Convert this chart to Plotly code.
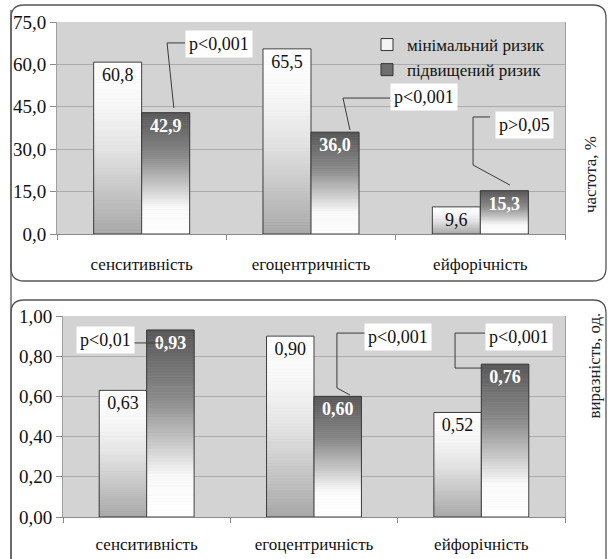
import plotly.graph_objects as go

# ---------------- data ----------------
categories = ["сенситивність", "егоцентричність", "ейфорічність"]
series_names = ["мінімальний ризик", "підвищений ризик"]
freq_min = [60.8, 65.5, 9.6]
freq_high = [42.9, 36.0, 15.3]
expr_min = [0.63, 0.90, 0.52]
expr_high = [0.93, 0.60, 0.76]
freq_p = ["p<0,001", "p<0,001", "p>0,05"]
expr_p = ["p<0,01", "p<0,001", "p<0,001"]
freq_ticks = [0, 15, 30, 45, 60, 75]
expr_ticks = [0, 0.2, 0.4, 0.6, 0.8, 1.0]
freq_title = "частота, %"
expr_title = "виразність, од."

W, H = 611, 559
FONT = "Liberation Serif"

# gradient stops (t = 0 bottom of bar, 1 top of bar)
light_stops = [(0.0, (168, 168, 168)), (0.48, (226, 226, 226)), (0.75, (248, 248, 248)), (1.0, (255, 255, 255))]
dark_stops = [(0.0, (255, 255, 255)), (0.22, (250, 250, 250)), (0.40, (200, 200, 200)),
              (0.64, (138, 138, 138)), (1.0, (88, 88, 88))]


def interp(stops, t):
    for (t0, c0), (t1, c1) in zip(stops[:-1], stops[1:]):
        if t0 <= t <= t1:
            f = (t - t0) / (t1 - t0) if t1 > t0 else 0
            c = [round(a + (b - a) * f) for a, b in zip(c0, c1)]
            return "rgb(%d,%d,%d)" % tuple(c)
    return "rgb(%d,%d,%d)" % stops[-1][1]


def px(x):
    return x / W


def py(y):
    return 1 - y / H


fig = go.Figure()
N = 60


def add_series(values, xa, ya, group, stops, txtcolor, bold, decimals):
    for k in range(N):
        t = (k + 0.5) / N
        col = interp(stops, t)
        fig.add_trace(go.Bar(
            x=categories, y=[v / N for v in values], base=[v * k / N for v in values],
            xaxis=xa, yaxis=ya, offsetgroup=group, showlegend=False, hoverinfo="skip",
            marker=dict(color=col, line=dict(color=col, width=0.6)),
        ))
    labels = []
    for v in values:
        s = f"{v:.{decimals}f}".replace(".", ",")
        labels.append(f"<b>{s}</b>" if bold else s)
    fig.add_trace(go.Bar(
        x=categories, y=values, xaxis=xa, yaxis=ya, offsetgroup=group, showlegend=False,
        marker=dict(color="rgba(0,0,0,0)", line=dict(color="#3c3c3c", width=1)),
        text=labels, textposition="inside", insidetextanchor="end", textangle=0,
        constraintext="none",
        textfont=dict(family=FONT, size=18, color=txtcolor),
    ))


add_series(freq_min, "x", "y", "a", light_stops, "#111111", False, 1)
add_series(freq_high, "x", "y", "b", dark_stops, "#ffffff", True, 1)
add_series(expr_min, "x2", "y2", "a", light_stops, "#111111", False, 2)
add_series(expr_high, "x2", "y2", "b", dark_stops, "#ffffff", True, 2)

# legend entries
fig.add_trace(go.Bar(x=categories, y=[None] * 3, name=series_names[0], xaxis="x", yaxis="y",
                     offsetgroup="a", marker=dict(color="#f4f4f4", line=dict(color="#333", width=1))))
fig.add_trace(go.Bar(x=categories, y=[None] * 3, name=series_names[1], xaxis="x", yaxis="y",
                     offsetgroup="b", marker=dict(color="#6e6e6e", line=dict(color="#333", width=1))))

# ---------------- callouts ----------------
top_callouts = [
    (0.454, 67.2, [(0.19, 44.6), (0.15, 67.6), (0.256, 67.6)]),
    (1.667, 48.5, [(1.23, 36.8), (1.189, 48.1), (1.467, 48.1)]),
    (2.262, 38.6, [(2.175, 17.3), (1.957, 24.4), (1.957, 41.4), (2.057, 41.4)]),
]
bot_callouts = [
    (-0.249, 0.88, [(-0.082, 0.866), (0.092, 0.866)]),
    (1.499, 0.896, [(1.215, 0.607), (1.137, 0.642), (1.137, 0.915), (1.305, 0.915)]),
    (2.225, 0.896, [(2.004, 0.741), (1.843, 0.741), (1.843, 0.915), (2.022, 0.915)]),
]

shapes = []
annotations = []
for (texts, calls, xr, yr) in [(freq_p, top_callouts, "x", "y"), (expr_p, bot_callouts, "x2", "y2")]:
    for txt, (tx, ty, pts) in zip(texts, calls):
        for (x0, y0), (x1, y1) in zip(pts[:-1], pts[1:]):
            shapes.append(dict(type="line", xref=xr, yref=yr, x0=x0, y0=y0, x1=x1, y1=y1,
                               line=dict(color="#3a3a3a", width=1)))
        annotations.append(dict(x=tx, y=ty, xref=xr, yref=yr, text=txt, showarrow=False,
                                bgcolor="white", borderpad=3,
                                font=dict(family=FONT, size=18, color="#111")))


# rounded frames
def rrect(x0, y0, x1, y1, r):
    return (f"M {px(x0 + r)} {py(y0)} L {px(x1 - r)} {py(y0)} Q {px(x1)} {py(y0)} {px(x1)} {py(y0 + r)} "
            f"L {px(x1)} {py(y1 - r)} Q {px(x1)} {py(y1)} {px(x1 - r)} {py(y1)} "
            f"L {px(x0 + r)} {py(y1)} Q {px(x0)} {py(y1)} {px(x0)} {py(y1 - r)} "
            f"L {px(x0)} {py(y0 + r)} Q {px(x0)} {py(y0)} {px(x0 + r)} {py(y0)} Z")


for (a, b) in [(5, 281), (300, 580)]:
    shapes.append(dict(type="path", xref="paper", yref="paper", path=rrect(11, a, 606, b, 13),
                       line=dict(color="#555", width=1.3), layer="below"))
shapes.append(dict(type="line", xref="paper", yref="paper", x0=px(11), x1=px(11), y0=py(10), y1=py(559),
                   line=dict(color="#555", width=1.3), layer="below"))

annotations.append(dict(x=px(602), y=py(134), xref="paper", yref="paper", text=freq_title,
                        textangle=-90, showarrow=False, font=dict(family=FONT, size=17, color="#222")))
annotations.append(dict(x=px(605), y=py(421), xref="paper", yref="paper", text=expr_title,
                        textangle=-90, showarrow=False, font=dict(family=FONT, size=17, color="#222")))

xcommon = dict(type="category", showline=True, linecolor="#8a8a8a", ticks="outside", tickson="boundaries",
               ticklen=5, tickcolor="#8a8a8a", showgrid=False, automargin=False,
               tickfont=dict(family=FONT, size=17, color="#111"))
ycommon = dict(showline=True, linecolor="#a0a0a0", mirror=True, ticks="outside", ticklen=6,
               tickcolor="#8a8a8a", showgrid=True, gridcolor="#ababab", gridwidth=1, zeroline=False,
               automargin=False, tickfont=dict(family=FONT, size=19, color="#111"))

fig.update_layout(
    width=W, height=H, margin=dict(l=0, r=0, t=0, b=0, pad=0, autoexpand=False),
    paper_bgcolor="white", plot_bgcolor="#d3d3d3",
    barmode="group", bargap=0.433, bargroupgap=0,
    separators=", ",
    font=dict(family=FONT, color="#111"),
    xaxis=dict(domain=[px(57), px(565)], anchor="y", ticklabelstandoff=15, **xcommon),
    yaxis=dict(domain=[py(234), py(22)], anchor="x", range=[0, 75], tickvals=freq_ticks,
               tickformat=".1f", **ycommon),
    xaxis2=dict(domain=[px(63), px(565)], anchor="y2", ticklabelstandoff=12, **xcommon),
    yaxis2=dict(domain=[py(517), py(316)], anchor="x2", range=[0, 1.0], tickvals=expr_ticks,
                tickformat=".2f", **ycommon),
    legend=dict(x=px(367), y=py(27), xanchor="left", yanchor="top", bgcolor="rgba(0,0,0,0)",
                font=dict(family=FONT, size=17, color="#111"), traceorder="normal", tracegroupgap=0),
    shapes=shapes, annotations=annotations, showlegend=True,
)

fig.write_html("out.html", config={"displayModeBar": False},
               post_script="document.body.style.margin='0';document.body.style.padding='0';")
